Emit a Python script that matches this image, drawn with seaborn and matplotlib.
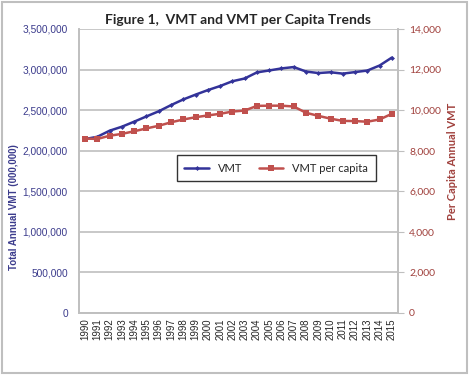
import numpy as np
import pandas as pd
import matplotlib
matplotlib.use("Agg")
import matplotlib.pyplot as plt
import seaborn as sns
from matplotlib.patches import Rectangle

# data
years = list(range(1990, 2016))
vmt = [2144, 2172, 2247, 2296, 2358, 2423, 2486, 2562, 2632, 2691,
       2747, 2797, 2856, 2890, 2965, 2989, 3014, 3031, 2976, 2957,
       2967, 2950, 2969, 2988, 3050, 3148]  # billions -> x1000 below
vmt = [v * 1000 for v in vmt]
vmt_per_capita = [8600, 8580, 8740, 8830, 8960, 9100, 9230, 9400, 9540, 9650,
                  9740, 9820, 9930, 9980, 10210, 10220, 10220, 10180, 9870, 9720,
                  9580, 9470, 9460, 9430, 9540, 9820]

BLUE = "#333399"
RED = "#C0504D"
LEFT_TXT = "#3B3B8C"
RIGHT_TXT = "#A0403C"
GRID = "#BFBFBF"

df = pd.DataFrame({"pos": np.arange(len(years)), "year": years,
                   "vmt": vmt, "pc": vmt_per_capita})

sns.set_style("white")
plt.rcParams["font.family"] = ["Liberation Sans", "DejaVu Sans"]

fig = plt.figure(figsize=(4.7, 3.75), dpi=100)
ax = fig.add_axes([79 / 470, 62 / 375, 319 / 470, 284 / 375])
ax2 = ax.twinx()

sns.lineplot(data=df, x="pos", y="vmt", ax=ax, color=BLUE, marker="D",
             markersize=2.5, markeredgewidth=0, linewidth=1.8, label="VMT", legend=False)
sns.lineplot(data=df, x="pos", y="pc", ax=ax2, color=RED, marker="s",
             markersize=3.8, markeredgewidth=0, linewidth=1.8, label="VMT per capita", legend=False)

ax.set_ylim(0, 3500000)
ax.set_yticks(np.arange(0, 3500001, 500000))
ax.set_yticklabels([f"{int(v):,}" for v in np.arange(0, 3500001, 500000)],
                   color=LEFT_TXT, fontsize=7.3)
ax2.set_ylim(0, 14000)
ax2.set_yticks(np.arange(0, 14001, 2000))
ax2.set_yticklabels([f"{int(v):,}" for v in np.arange(0, 14001, 2000)],
                    color=RIGHT_TXT, fontsize=7.5, family=["Lato", "DejaVu Sans"])

ax.set_xlim(-0.5, len(years) - 0.5)
ax.set_xticks(np.arange(len(years)))
ax.set_xticklabels([str(y) for y in years], rotation=90, fontsize=7)
ax.set_xticks(np.arange(-0.5, len(years), 1), minor=True)
ax.tick_params(axis="x", which="major", length=0, pad=4)
ax.tick_params(axis="x", which="minor", direction="in", length=3, color=GRID)
ax.tick_params(axis="y", length=0, pad=8)
ax2.tick_params(axis="y", direction="out", length=4, color=GRID, pad=4)

ax.yaxis.grid(True, color=GRID, linewidth=1.2)
ax.set_axisbelow(True)
ax.set_xlabel("")
ax.set_ylabel("")
ax2.set_ylabel("")
for a in (ax, ax2):
    a.spines["top"].set_visible(False)
    for s in ("left", "bottom", "right"):
        a.spines[s].set_color(GRID)
        a.spines[s].set_linewidth(1.2)

fig.text(14 / 470, 1 - 207 / 375, "Total Annual VMT (000,000)", rotation=90,
         ha="center", va="center", color=LEFT_TXT, fontsize=7, fontweight="bold")
fig.text(453 / 470, 1 - 161 / 375, "Per Capita Annual VMT", rotation=90,
         ha="center", va="center", color=RIGHT_TXT, fontsize=8, fontweight="bold",
         family=["Lato", "DejaVu Sans"])
fig.text(238 / 470, 1 - 20 / 375, "Figure 1,  VMT and VMT per Capita Trends",
         ha="center", va="center", fontsize=10, fontweight="bold",
         family=["Lato", "DejaVu Sans"])

h1, l1 = ax.get_legend_handles_labels()
h2, l2 = ax2.get_legend_handles_labels()
leg = ax2.legend(h1 + h2, l1 + l2, loc="center", bbox_to_anchor=(0.618, 0.51),
                 ncol=2, frameon=True, fancybox=False,
                 prop={"family": ["Lato", "DejaVu Sans"], "size": 8},
                 handlelength=2.2, borderpad=0.7, columnspacing=1.5)
leg.get_frame().set_edgecolor("black")
leg.get_frame().set_linewidth(1.0)

fig.patches.append(Rectangle((2 / 470, 2 / 375), 465 / 470, 371 / 375,
                             transform=fig.transFigure, fill=False,
                             edgecolor="#BFBFBF", linewidth=1.5))

fig.savefig("out.png", dpi=100)
